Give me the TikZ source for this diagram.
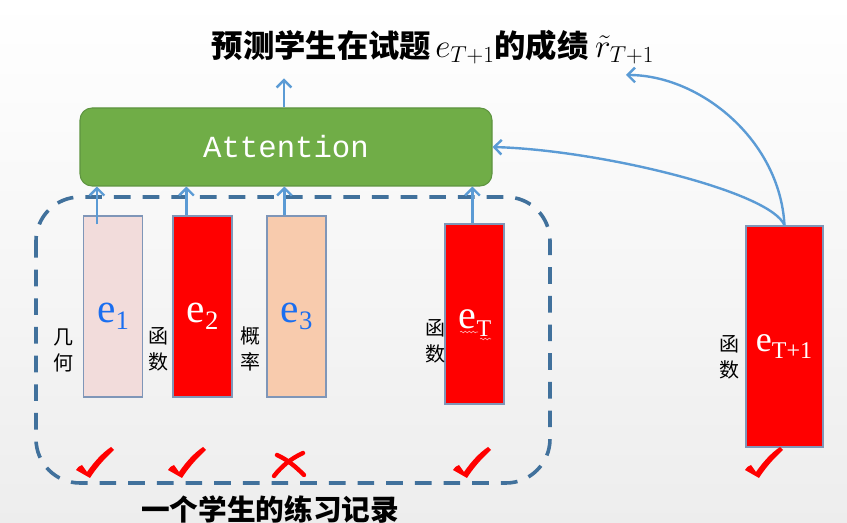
\documentclass[tikz,border=0pt]{standalone}
\usepackage{fontspec}
\usetikzlibrary{arrows.meta,calc,decorations.pathmorphing}
\newfontfamily\cjk{Noto Sans CJK SC}
\newfontfamily\efont{Liberation Serif}
\newfontfamily\monof{Liberation Mono}
\definecolor{attfill}{HTML}{70AD47}
\definecolor{attdraw}{HTML}{5E9440}
\definecolor{arrc}{HTML}{5B9BD5}
\definecolor{dashc}{HTML}{41719C}
\definecolor{boxline}{HTML}{7F96B8}
\definecolor{pinkf}{HTML}{F2DCDB}
\definecolor{peachf}{HTML}{F8CBAD}
\definecolor{redf}{HTML}{FF0000}
\definecolor{bluet}{HTML}{1A6EF0}
\newcommand\elabel[4]{{\efont\fontsize{#1}{#1}\selectfont e\raisebox{-#3}{\fontsize{#2}{#2}\selectfont #4}}}
\begin{document}
\begin{tikzpicture}[x=0.75pt,y=-0.75pt,
  arr/.style={draw=arrc,line width=1.8pt,-{Straight Barb[length=5.5pt,width=11pt]}},
  ebox/.style={draw=boxline,line width=0.8pt,inner sep=0pt,minimum width=44.25pt,minimum height=135.75pt},
  elab/.style={anchor=base,inner sep=0pt},
  side/.style={align=center,inner sep=0pt,font=\cjk\fontsize{15pt}{19.5pt}\selectfont},
  chk/.pic={\fill[redf] (-12,-7) .. controls (-10,-10) .. (-6,-12) -- (-1,-5)
      .. controls (6,-15) and (14,-24) .. (23,-30) -- (26,-27)
      .. controls (15,-17) and (7,-7) .. (2,1) -- cycle;}]
\shade[top color=white,bottom color=black!7] (0,0) rectangle (847,523);
\useasboundingbox (0,0) rectangle (847,523);
% dashed record frame
\draw[dashc,line width=2.7pt,dash pattern=on 12.5pt off 9pt,rounded corners=33pt] (36,197) rectangle (550,483);
% attention
\node[draw=attdraw,fill=attfill,line width=0.8pt,rounded corners=9pt,minimum width=309pt,minimum height=58.5pt,inner sep=0pt,
  text=white,font=\monof\fontsize{23pt}{23pt}\selectfont] (att) at (286,147) {Attention};
% exercise boxes
\node[ebox,fill=pinkf] (e1) at (113,306.5) {};
\node[ebox,fill=redf] (e2) at (202.5,306.5) {};
\node[ebox,fill=peachf] (e3) at (296.5,306.5) {};
\node[ebox,fill=redf,minimum height=135pt] (eT) at (474.5,314) {};
\node[ebox,fill=redf,minimum width=57.75pt,minimum height=165.75pt] (eT1) at (784.5,336.5) {};
% box labels
\node[elab,text=bluet] (l1) at (113,323) {\elabel{31pt}{20pt}{5pt}{1}};
\node[elab,text=white] (l2) at (202.5,323) {\elabel{31pt}{20pt}{5pt}{2}};
\node[elab,text=bluet] (l3) at (296.5,323) {\elabel{31pt}{20pt}{5pt}{3}};
\node[elab,text=white] (lT) at (475,329) {\elabel{30pt}{18pt}{6pt}{T}};
\node[elab,text=white] (lT1) at (784,352) {\elabel{27pt}{18pt}{5pt}{T+1}};
\draw[red!35!white,line width=0.5pt,decorate,decoration={snake,amplitude=0.6pt,segment length=3pt}] (460,332) -- (478,332);
\draw[red!35!white,line width=0.5pt,decorate,decoration={snake,amplitude=0.6pt,segment length=3pt}] (480,339) -- (491,339);
% side labels
\node[side] (k1) at (63,350) {几\\何};
\node[side] (k2) at (158,349) {函\\数};
\node[side] (k3) at (250,349) {概\\率};
\node[side] (kT) at (435,341) {函\\数};
\node[side] (kT1) at (729,357) {函\\数};
% arrows into attention
\coordinate (s1) at ($(e1.north west)+(14,9)$);
\coordinate (s2) at ($(e2.north west)+(14,0)$);
\coordinate (s3) at ($(e3.north west)+(18,0)$);
\coordinate (sT) at ($(eT.north west)+(28,0)$);
\draw[arr] (s1) -- (s1 |- att.south);
\draw[arr] (s2) -- (s2 |- att.south);
\draw[arr] (s3) -- (s3 |- att.south);
\draw[arr] (sT) -- (sT |- att.south);
% output arrow and title
\coordinate (tp) at ($(att.north)+(-2,-29)$);
\draw[arr] (att.north -| tp) -- (tp);
\node[inner sep=0pt,font=\fontsize{23.5pt}{23.5pt}\selectfont] (title) at (433,47)
  {{\cjk\bfseries 预测学生在试题}\hspace{3pt}$e_{T+1}${\cjk\bfseries 的成绩}\hspace{5pt}$\tilde{r}_{T+1}$};
\coordinate (rt) at (626,75);
\draw[arr] (eT1.north) .. controls (772,192) and (600,150) .. (att.east);
\draw[arr] (eT1.north) .. controls (780,140) and (700,75) .. (rt);
% checks
\pic at (88,477) {chk};
\pic at (180,477) {chk};
\pic at (465,477) {chk};
\pic at (757,477) {chk};
\draw[redf,line width=3.3pt,line cap=round] (277,455) .. controls (288,460) and (296,467) .. (304,475);
\draw[redf,line width=3.3pt,line cap=round] (303,453) .. controls (290,459) and (281,467) .. (274,476);
% bottom caption
\node[inner sep=0pt,font=\cjk\bfseries\fontsize{21.5pt}{21.5pt}\selectfont] (cap) at (270,509) {一个学生的练习记录};
\end{tikzpicture}
\end{document}
